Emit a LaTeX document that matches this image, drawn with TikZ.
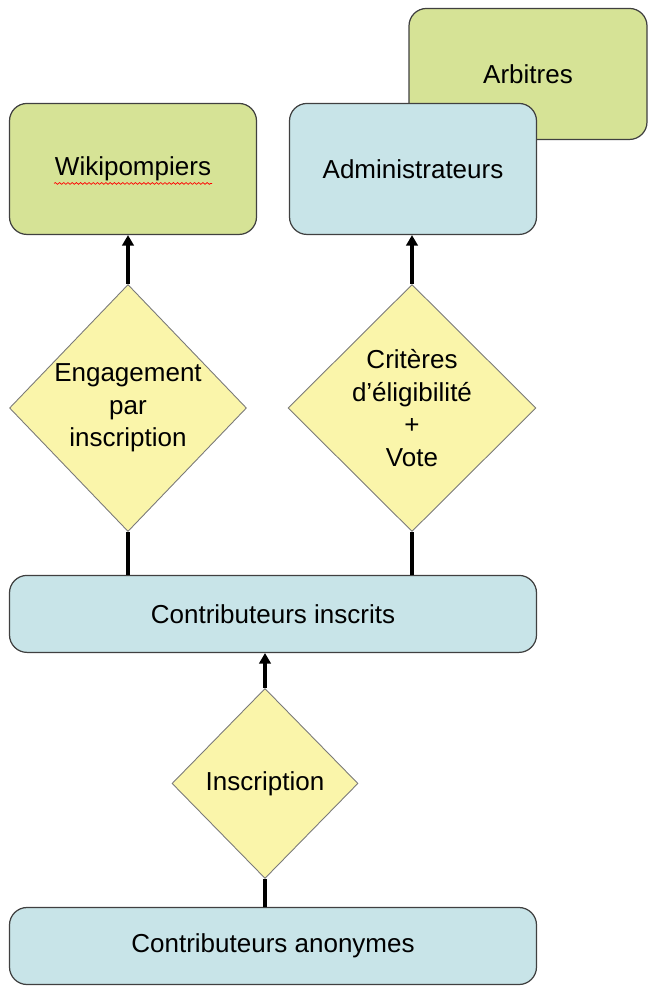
\documentclass[tikz,border=0pt]{standalone}
\usepackage{fontspec}
\setmainfont{Liberation Sans}
\usepackage{xcolor}
\usepackage{tikz}
\usetikzlibrary{arrows.meta,shapes.geometric,positioning,backgrounds,calc,decorations.pathmorphing}

\definecolor{greenfill}{RGB}{214,227,150}
\definecolor{bluefill}{RGB}{200,228,232}
\definecolor{yellowfill}{RGB}{250,245,170}
\definecolor{edge}{RGB}{64,64,64}

\begin{document}
\begin{tikzpicture}[
  font=\fontsize{14.8}{18.5}\selectfont,
  >={Triangle[length=6pt,width=6.5pt]},
  box/.style={draw=edge, rounded corners=0.35cm, line width=0.7pt,
              minimum height=2.62cm, minimum width=4.94cm, align=center},
  greenbox/.style={box, fill=greenfill},
  bluebox/.style={box, fill=bluefill},
  widebox/.style={bluebox, minimum width=10.54cm, minimum height=1.54cm},
  decision/.style={diamond, draw=edge!70, fill=yellowfill, line width=0.5pt,
                   inner sep=0pt, align=center},
  arrow/.style={->, line width=2pt, color=black},
  link/.style={line width=2pt, color=black},
]
\useasboundingbox (0,0) rectangle (12.98,-19.74);

\node[widebox] (anon) at (5.46,-18.92) {Contributeurs anonymes};
\node[decision, minimum width=3.72cm, minimum height=3.8cm,
      above=0.56cm of anon, xshift=-0.16cm] (inscr) {Inscription};
\node[widebox, above=0.7cm of inscr, xshift=0.16cm] (inscrits) {Contributeurs inscrits};

\node[decision, minimum width=4.74cm, minimum height=4.94cm] (engage) at (2.56,-8.16)
  {Engagement\\par\\inscription};
\node[decision, minimum width=4.96cm, minimum height=4.94cm] (criteres) at (8.24,-8.16)
  {Critères\\d’éligibilité\\+\\Vote};

\node[greenbox, above=0.98cm of engage, xshift=0.1cm] (wiki) {Wikipompiers};
\node[bluebox, above=0.98cm of criteres, xshift=0.02cm] (admin) {Administrateurs};
\begin{scope}[on background layer]
  \node[greenbox, minimum width=4.76cm, xshift=2.3cm, yshift=1.9cm] (arb) at (admin) {Arbitres};
\end{scope}

\draw[red, line width=0.4pt, decorate, decoration={snake, amplitude=0.5pt, segment length=2.4pt}]
  ($(wiki.center)+(-1.58,-0.29)$) -- ($(wiki.center)+(1.58,-0.29)$);

\draw[link] (anon.north -| inscr.south) -- (inscr.south);
\draw[arrow] (inscr.north) -- (inscr.north |- inscrits.south);
\draw[link] (inscrits.north -| engage.south) -- (engage.south);
\draw[link] (inscrits.north -| criteres.south) -- (criteres.south);
\draw[arrow] (engage.north) -- (engage.north |- wiki.south);
\draw[arrow] (criteres.north) -- (criteres.north |- admin.south);

\end{tikzpicture}
\end{document}
